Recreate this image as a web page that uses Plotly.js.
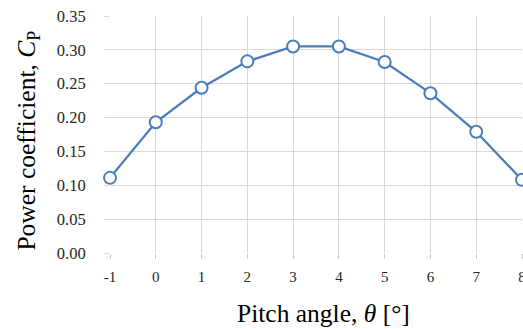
<!DOCTYPE html>
<html>
<head>
<meta charset="utf-8">
<script src="https://cdn.plot.ly/plotly-3.0.1.min.js"></script>
<style>html,body{margin:0;padding:0;background:#fff;}#chart{width:523px;height:329px;}</style>
</head>
<body>
<div id="chart"></div>
<script>
const pitchAngle = [-1, 0, 1, 2, 3, 4, 5, 6, 7, 8];
const powerCoeff = [0.111, 0.193, 0.244, 0.283, 0.305, 0.305, 0.282, 0.236, 0.179, 0.108];
const yTickVals = [0, 0.05, 0.10, 0.15, 0.20, 0.25, 0.30, 0.35];
const xTitle = 'Pitch angle, <i>θ</i> [°]';
const yTitle = 'Power coefficient, <i>C</i><sub>P</sub>';
const serif = 'Liberation Serif, Times New Roman, serif';

const trace = {
  x: pitchAngle,
  y: powerCoeff,
  type: 'scatter',
  mode: 'lines+markers',
  line: {color: '#4a7ebb', width: 2.25},
  marker: {symbol: 'circle', size: 12, color: '#ffffff', line: {color: '#4a7ebb', width: 2}},
  cliponaxis: false,
  hoverinfo: 'skip'
};

const layout = {
  width: 523, height: 329,
  margin: {l: 110, r: 1, t: 16, b: 76, pad: 0},
  paper_bgcolor: '#ffffff', plot_bgcolor: '#ffffff',
  showlegend: false,
  font: {family: serif, color: '#222'},
  xaxis: {
    range: [-1, 8], tickmode: 'array', tickvals: pitchAngle, ticktext: pitchAngle.map(String),
    showgrid: true, gridcolor: '#d9d9d9', gridwidth: 1,
    zeroline: false, showline: false,
    ticks: 'outside', ticklen: 5, tickcolor: '#c8c8c8', tickwidth: 1,
    tickfont: {family: serif, size: 15, color: '#262626'},
    ticklabelstandoff: 5,
    ticklabeloverflow: 'allow',
    automargin: false
  },
  yaxis: {
    range: [0, 0.35], tickmode: 'array', tickvals: yTickVals, tickformat: '.2f',
    showgrid: true, gridcolor: '#d9d9d9', gridwidth: 1,
    zeroline: false, showline: false,
    ticks: 'outside', ticklen: 5, tickcolor: '#d9d9d9', tickwidth: 1,
    tickfont: {family: serif, size: 16.5, color: '#262626'},
    ticklabelstandoff: 15,
    automargin: false
  },
  annotations: [
    {text: xTitle, xref: 'paper', yref: 'paper', x: 0.517, y: -0.256,
     xanchor: 'center', yanchor: 'middle', showarrow: false,
     font: {family: serif, size: 25.5, color: '#000'}},
    {text: yTitle, xref: 'paper', yref: 'paper', x: -0.2, y: 0.4726,
     xanchor: 'center', yanchor: 'middle', showarrow: false, textangle: -90,
     font: {family: serif, size: 25.5, color: '#000'}}
  ]
};

Plotly.newPlot('chart', [trace], layout, {staticPlot: true, displayModeBar: false});
</script>
</body>
</html>
